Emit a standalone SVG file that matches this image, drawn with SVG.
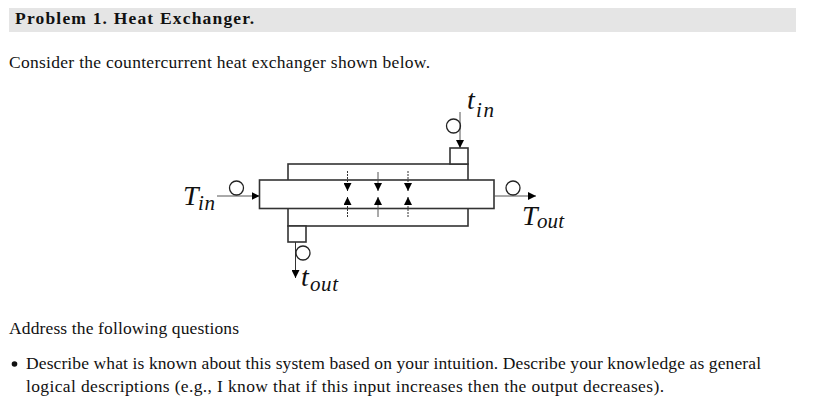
<svg xmlns="http://www.w3.org/2000/svg" width="816" height="408" viewBox="0 0 816 408">
<style>
text{font-family:"Liberation Serif","DejaVu Serif",serif;fill:#111}
.b{font-size:17.500px}
.h{font-size:17.500px;font-weight:bold}
.m{font-size:28px;font-style:italic}
.s{font-size:21px;font-style:italic}
.o{fill:none;stroke:#333;stroke-width:1.6}
.w{fill:#fff;stroke:#333;stroke-width:1.6}
.l{fill:none;stroke:#555;stroke-width:1}
.d{fill:none;stroke:#333;stroke-width:1;stroke-dasharray:2 1}
.c{fill:none;stroke:#222;stroke-width:1.3}
</style>
<defs>
<marker id="a" markerUnits="userSpaceOnUse" markerWidth="9" markerHeight="8" refX="8" refY="4" orient="auto"><path d="M0 0L8 4L0 8Z" fill="#000"/></marker>
</defs>
<rect width="816" height="408" fill="#fff"/>
<rect x="9" y="8" width="787" height="24" fill="#e5e5e5"/>
<text class="h" x="15" y="24" textLength="239" lengthAdjust="spacing">Problem 1. Heat Exchanger.</text>
<text class="b" x="9" y="68" textLength="421" lengthAdjust="spacing">Consider the countercurrent heat exchanger shown below.</text>
<g id="shell"><rect class="o" x="288" y="164" width="180" height="62"/></g>
<g id="tube"><rect class="w" x="259.500" y="180" width="234.500" height="28.500"/></g>
<g id="inlet-box"><rect class="w" x="450" y="148" width="18" height="16"/></g>
<g id="outlet-box"><rect class="w" x="288" y="226" width="18" height="16"/></g>
<g id="connectors">
<path class="l" d="M217 196H259.500" marker-end="url(#a)"/>
<path class="l" d="M494 196H536" marker-end="url(#a)"/>
<path class="l" d="M460 112V148" marker-end="url(#a)"/>
<path class="l" d="M295.500 242V278" marker-end="url(#a)" style="stroke:#333"/>
<path class="d" d="M347.500 171V191" marker-end="url(#a)"/>
<path class="l" d="M378 172V191" marker-end="url(#a)"/>
<path class="d" d="M408 171V191" marker-end="url(#a)"/>
<path class="d" d="M347.500 217V197" marker-end="url(#a)"/>
<path class="l" d="M378 217V197" marker-end="url(#a)"/>
<path class="d" d="M408 217V197" marker-end="url(#a)"/>
</g>
<g id="sensor-tin-in"><circle class="c" cx="236.500" cy="188" r="7"/></g>
<g id="sensor-t-out"><circle class="c" cx="513" cy="188" r="7"/></g>
<g id="sensor-t-in"><circle class="c" cx="453.500" cy="126" r="7"/></g>
<g id="sensor-t-outlet"><circle class="c" cx="303" cy="253" r="7"/></g>
<g id="label-Tin"><text class="m" x="183" y="205">T</text><text class="s" x="198" y="210" textLength="17">in</text></g>
<g id="label-Tout"><text class="m" x="522" y="225">T</text><text class="s" x="537" y="228" textLength="27">out</text></g>
<g id="label-tin"><text class="m" x="467" y="109">t</text><text class="s" x="476" y="117" textLength="18">in</text></g>
<g id="label-tout"><text class="m" x="301" y="286">t</text><text class="s" x="310" y="291" textLength="28">out</text></g>
<text class="b" x="9" y="334" textLength="230" lengthAdjust="spacing">Address the following questions</text>
<circle cx="14.500" cy="364" r="2.800" fill="#111"/>
<text class="b" x="26" y="369" textLength="735" lengthAdjust="spacing">Describe what is known about this system based on your intuition. Describe your knowledge as general</text>
<text class="b" x="26" y="392" textLength="638" lengthAdjust="spacing">logical descriptions (e.g., I know that if this input increases then the output decreases).</text>
</svg>
